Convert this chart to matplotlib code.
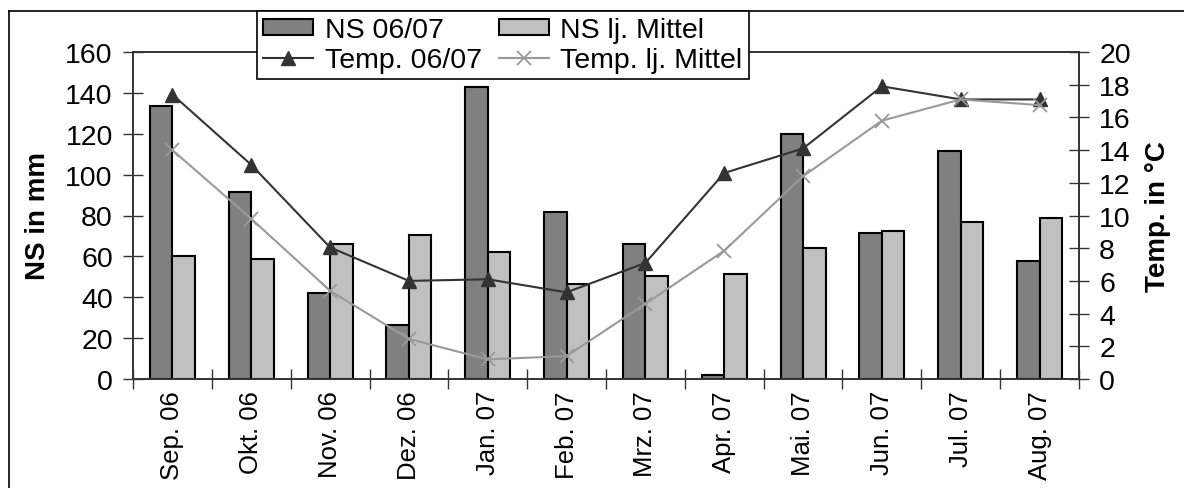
import matplotlib
matplotlib.use("Agg")
import matplotlib.pyplot as plt
import matplotlib.lines
import numpy as np

plt.rcParams["font.family"] = ["Liberation Sans", "DejaVu Sans"]

months = ["Sep. 06", "Okt. 06", "Nov. 06", "Dez. 06", "Jan. 07", "Feb. 07",
          "Mrz. 07", "Apr. 07", "Mai. 07", "Jun. 07", "Jul. 07", "Aug. 07"]
ns_0607 = [133.7, 91.6, 42.2, 26.6, 142.7, 81.5, 66.0, 2.1, 119.9, 71.4, 111.7, 57.7]
ns_mittel = [60.3, 58.7, 66.0, 70.6, 62.3, 46.6, 50.4, 51.4, 63.9, 72.4, 76.6, 78.8]
temp_0607 = [17.4, 13.1, 8.05, 6.0, 6.1, 5.3, 7.1, 12.6, 14.1, 17.9, 17.1, 17.1]
temp_mittel = [14.0, 9.8, 5.4, 2.45, 1.2, 1.4, 4.6, 7.85, 12.4, 15.8, 17.1, 16.75]

fig = plt.figure(figsize=(11.84, 4.89), dpi=100)
ax = fig.add_axes([133 / 1184, 1 - 380 / 489, 946 / 1184, 327 / 489])
ax2 = ax.twinx()

x = np.arange(len(months))
w = 0.285
b1 = ax.bar(x - w / 2, ns_0607, w, color="#808080", edgecolor="black", linewidth=1.5,
            label="NS 06/07")
b2 = ax.bar(x + w / 2, ns_mittel, w, color="#c0c0c0", edgecolor="black", linewidth=1.5,
            label="NS lj. Mittel")

l1, = ax2.plot(x, temp_0607, color="#333333", linewidth=1.5, marker="^",
               markersize=10, label="Temp. 06/07")
l2, = ax2.plot(x, temp_mittel, color="#999999", linewidth=1.5, marker="x",
               markersize=10, markeredgewidth=1.3, label="Temp. lj. Mittel")

ax.set_xlim(-0.5, 11.5)
ax.set_ylim(0, 160)
ax2.set_ylim(0, 20)
ax.set_yticks(np.arange(0, 161, 20))
ax2.set_yticks(np.arange(0, 21, 2))

fs = 20.5
ax.set_xticks(x)
ax.set_xticklabels(months, rotation=90, fontsize=18.5)
ax.set_xticks(np.arange(-0.5, 12, 1), minor=True)
ax.tick_params(axis="x", which="major", length=0, pad=8)
ax.tick_params(axis="x", which="minor", direction="inout", length=14, width=1, color="#333333")
ax.tick_params(axis="y", direction="inout", length=14, width=1, labelsize=fs, pad=7.5,
               color="#333333")
ax2.tick_params(axis="y", direction="inout", length=14, width=1, labelsize=fs, pad=7.5,
                color="#333333")

for a in (ax, ax2):
    for s in a.spines.values():
        s.set_color("#333333")
        s.set_linewidth(1.2)

ax.set_ylabel("NS in mm", fontsize=20, fontweight="bold", labelpad=10)
ax2.set_ylabel("Temp. in °C", fontsize=20, fontweight="bold", labelpad=10)

leg = fig.legend(handles=[b1, l1, b2, l2], ncol=2, loc="upper left",
                 bbox_to_anchor=(257 / 1184, 1 - 12 / 489), fontsize=fs,
                 frameon=True, fancybox=False, edgecolor="black", framealpha=1,
                 borderaxespad=0, handlelength=1.76, handleheight=0.5,
                 columnspacing=0.6, handletextpad=0.4, labelspacing=0.12,
                 borderpad=0.22)
leg.get_frame().set_linewidth(1.2)
leg.set_zorder(10)

# outer chart border (only left and top are visible in the crop)
fig.add_artist(matplotlib.lines.Line2D([9 / 1184, 9 / 1184], [0, 1 - 12 / 489],
                                       color="black", linewidth=1.2))
fig.add_artist(matplotlib.lines.Line2D([9 / 1184, 1], [1 - 12 / 489, 1 - 12 / 489],
                                       color="black", linewidth=1.2))

fig.savefig("out.png", dpi=100)
